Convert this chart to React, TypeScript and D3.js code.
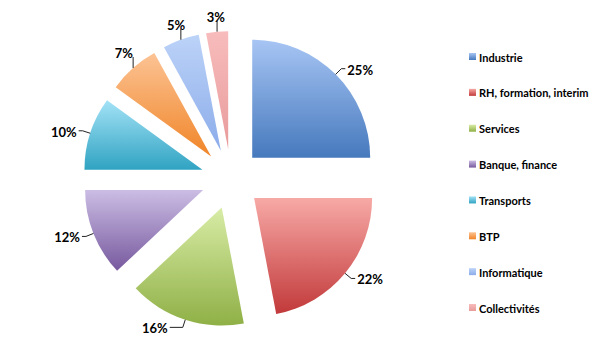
import * as d3 from "d3";

const categories = [
  "Industrie",
  "RH, formation, interim",
  "Services",
  "Banque, finance",
  "Transports",
  "BTP",
  "Informatique",
  "Collectivités",
];
const shares = [25, 22, 16, 12, 10, 7, 5, 3];
const topColors = ["#a7c5f4", "#f7a9a6", "#d8eca6", "#cbbde4", "#a3e2f6", "#fcc394", "#bcd3f8", "#f8bcbc"];
const bottomColors = ["#4679bd", "#c2393a", "#8fb046", "#77599e", "#30a3c2", "#f08528", "#8cacea", "#e89b9b"];

const width = 602;
const height = 362;
const cx = 231;
const cy = 179;
const radius = 118;
const explode = 30;
const font = "Lato, 'Open Sans', sans-serif";

function App() {
  const pie = d3.pie<number>().sort(null).value((d) => d).startAngle(0).endAngle(2 * Math.PI);
  const arcs = pie(shares);
  const arc = d3.arc<d3.PieArcDatum<number>>().innerRadius(0).outerRadius(radius);

  const legendY = d3.scalePoint<string>().domain(categories).range([57, 308]);

  return (
    <svg
      width={width}
      height={height}
      style={{ position: "absolute", left: 0, top: 0, background: "#fff" }}
    >
      <defs>
        {categories.map((c, i) => (
          <linearGradient id={`g${i}`} key={c} x1="0" y1="0" x2="0" y2="1">
            <stop offset="0%" stopColor={topColors[i]} />
            <stop offset="100%" stopColor={bottomColors[i]} />
          </linearGradient>
        ))}
      </defs>

      {arcs.map((a, i) => {
        const mid = (a.startAngle + a.endAngle) / 2;
        const dx = Math.sin(mid);
        const dy = -Math.cos(mid);
        const ox = cx + dx * explode;
        const oy = cy + dy * explode;
        // outer point of the slice
        const px = ox + dx * radius;
        const py = oy + dy * radius;
        let leader: string;
        let tx: number;
        let ty: number;
        let anchor: "start" | "end" | "middle";
        if (dy < -0.75) {
          leader = `M${px},${py}L${px},${py - 11}`;
          tx = px + dx * 14;
          ty = py - 15;
          anchor = "middle";
        } else {
          const ex = px + dx * 8;
          const ey = py + dy * 8;
          const side = dx > 0 ? 1 : -1;
          const tail = 4 + 60 * Math.max(0, Math.abs(dy) - 0.8);
          leader = `M${px},${py}L${ex},${ey}L${ex + side * tail},${ey}`;
          tx = ex + side * (tail + 2);
          ty = ey + 1;
          anchor = dx > 0 ? "start" : "end";
        }
        return (
          <g key={categories[i]}>
            <path d={arc(a) || ""} transform={`translate(${ox},${oy})`} fill={`url(#g${i})`} />
            <path d={leader} fill="none" stroke="#222" strokeWidth={1} />
            <text
              x={tx}
              y={ty}
              textAnchor={anchor}
              dominantBaseline="central"
              fontFamily={font}
              fontWeight="bold"
              fontSize={13}
              fill="#000"
            >
              {a.data}%
            </text>
          </g>
        );
      })}

      {categories.map((c, i) => (
        <g key={c} transform={`translate(469, ${legendY(c)})`}>
          <rect x={0} y={-4} width={7} height={7} fill={`url(#g${i})`} />
          <text
            x={10}
            y={0}
            dominantBaseline="central"
            fontFamily={font}
            fontWeight="bold"
            fontSize={11}
            fill="#000"
          >
            {c}
          </text>
        </g>
      ))}
    </svg>
  );
}

export default App;
